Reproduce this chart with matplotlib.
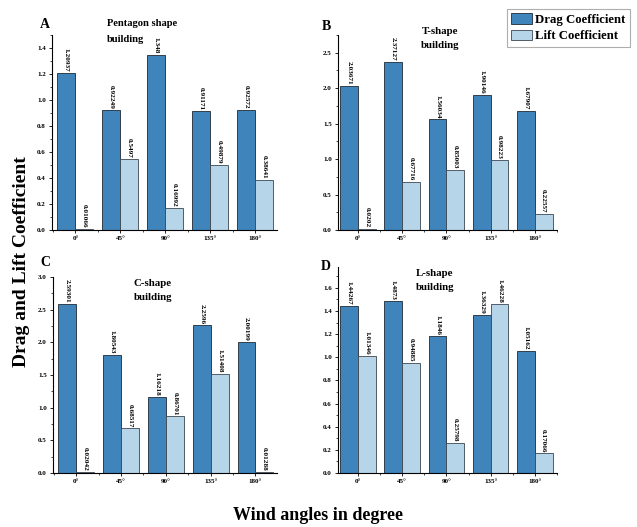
import matplotlib
matplotlib.use("Agg")
import matplotlib.pyplot as plt
from matplotlib.patches import Patch
from matplotlib.ticker import AutoMinorLocator, MultipleLocator
import numpy as np

plt.rcParams["font.family"] = ["Liberation Serif", "DejaVu Serif"]
plt.rcParams["font.weight"] = "bold"

angles = ["0°", "45°", "90°", "135°", "180°"]

pentagon_drag = [1.20937, 0.92249, 1.348, 0.91171, 0.92572]
pentagon_lift = [0.01066, 0.5497, 0.16992, 0.49879, 0.38641]

tshape_drag = [2.03671, 2.37127, 1.56034, 1.90146, 1.67907]
tshape_lift = [0.0202, 0.67716, 0.85003, 0.98223, 0.22557]

cshape_drag = [2.59301, 1.80543, 1.16218, 2.2596, 2.00199]
cshape_lift = [0.02042, 0.68517, 0.86701, 1.51408, 0.01288]

lshape_drag = [1.44267, 1.4873, 1.1846, 1.36329, 1.05162]
lshape_lift = [1.01346, 0.94885, 0.25798, 1.46228, 0.17066]

DRAG_COLOR = "#3f84bb"
LIFT_COLOR = "#b6d5e8"

W, H = 637, 527
fig = plt.figure(figsize=(W / 100, H / 100), dpi=100)


def px_axes(left, top, right, bottom):
    return fig.add_axes([left / W, 1 - bottom / H, (right - left) / W, (bottom - top) / H])


def panel(ax, drag, lift, ymax, ystep, xlim):
    x = np.arange(len(angles))
    bw = 0.4
    ax.bar(x - bw / 2, drag, bw, color=DRAG_COLOR, edgecolor="#1f2a33", linewidth=0.6)
    ax.bar(x + bw / 2, lift, bw, color=LIFT_COLOR, edgecolor="#3a4650", linewidth=0.6)
    for xi, v in zip(x - bw / 2, drag):
        ax.text(xi, v + ymax * 0.006, f"{v:g}", rotation=270, ha="center", va="bottom",
                fontsize=5.2, fontweight="bold")
    for xi, v in zip(x + bw / 2, lift):
        ax.text(xi, v + ymax * 0.006, f"{v:g}", rotation=270, ha="center", va="bottom",
                fontsize=5.2, fontweight="bold")
    ax.set_ylim(0, ymax)
    ax.set_xlim(*xlim)
    ax.set_xticks(x)
    ax.set_xticklabels(angles)
    ax.xaxis.set_minor_locator(MultipleLocator(0.5))
    ax.yaxis.set_major_locator(MultipleLocator(ystep))
    ax.yaxis.set_minor_locator(AutoMinorLocator(2))
    ax.yaxis.set_major_formatter(plt.FormatStrFormatter("%.1f"))
    for s in ("top", "right"):
        ax.spines[s].set_visible(False)
    for s in ("left", "bottom"):
        ax.spines[s].set_linewidth(0.8)
    ax.tick_params(axis="both", which="major", labelsize=5, length=2.5, width=0.6, pad=2)
    ax.tick_params(axis="both", which="minor", length=1.5, width=0.5)
    for lab in ax.get_xticklabels() + ax.get_yticklabels():
        lab.set_fontweight("bold")


axA = px_axes(52, 35, 277, 230)
panel(axA, pentagon_drag, pentagon_lift, 1.5, 0.2, (-0.52, 4.48))
axB = px_axes(338, 35, 557, 230)
panel(axB, tshape_drag, tshape_lift, 2.75, 0.5, (-0.45, 4.5))
axC = px_axes(53, 277, 277, 473)
panel(axC, cshape_drag, cshape_lift, 3.0, 0.5, (-0.52, 4.48))
axD = px_axes(338, 267, 557, 473)
panel(axD, lshape_drag, lshape_lift, 1.78, 0.2, (-0.45, 4.5))


def ftext(xp, yp, s, **kw):
    fig.text(xp / W, 1 - yp / H, s, fontweight="bold", **kw)


def title2(xp, yp, first, second, ha, size=7.8, gap=15):
    ftext(xp, yp, first, fontsize=size, ha=ha, va="center")
    ftext(xp, yp + gap, second, fontsize=size, ha=ha, va="center")


# panel letters
ftext(45, 25, "A", fontsize=10, ha="center", va="center")
ftext(326, 27, "B", fontsize=10, ha="center", va="center")
ftext(45, 263, "C", fontsize=10, ha="center", va="center")
ftext(326, 267, "D", fontsize=10, ha="center", va="center")

# panel titles
title2(107, 24, "Pentagon shape", "building", "left", size=7.6, gap=16)
title2(440, 31, "T-shape", "building", "center")
title2(153, 283, "C-shape", "building", "center")
title2(435, 273, "L-shape", "building", "center")

# shared axis labels
ftext(22, 262, "Drag and Lift Coefficient", fontsize=14, rotation=90, ha="center", va="center")
ftext(318, 516, "Wind angles in degree", fontsize=13, ha="center", va="center")

handles = [Patch(facecolor=DRAG_COLOR, edgecolor="#1f2a33", linewidth=0.6),
           Patch(facecolor=LIFT_COLOR, edgecolor="#3a4650", linewidth=0.6)]
leg = fig.legend(handles, ["Drag Coefficient", "Lift Coefficient"],
                 loc="upper left", bbox_to_anchor=(507 / W, 1 - 9 / H),
                 prop={"size": 9.2, "weight": "bold"}, frameon=True, fancybox=False,
                 handlelength=1.6, handleheight=0.85, handletextpad=0.25,
                 borderpad=0.35, labelspacing=0.3, borderaxespad=0)
leg.get_frame().set_edgecolor("#9a9a9a")
leg.get_frame().set_linewidth(0.8)

fig.savefig("out.png", dpi=100)
